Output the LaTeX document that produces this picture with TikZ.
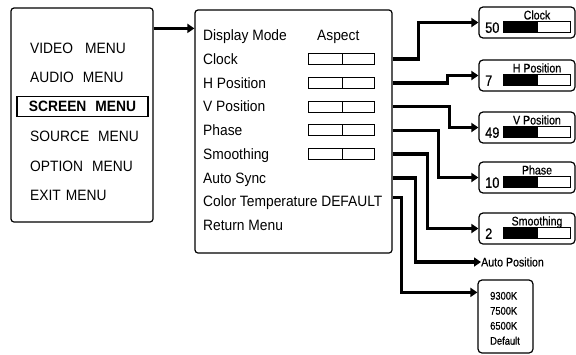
\documentclass[tikz,border=0pt]{standalone}
\usepackage{fontspec}
\setmainfont{Liberation Sans}[FakeStretch=0.92]
\newfontfamily\narrowfont{Liberation Sans}[FakeStretch=0.85,FakeBold=0.6]
\usetikzlibrary{arrows.meta,calc,positioning}

\begin{document}
\begin{tikzpicture}
[
	              x = 1pt,
	              y = -1pt,
	             >= {Triangle[length=7pt,width=9pt]},
	  menubox/.style = { draw=black, line width=1.2pt, rounded corners=3pt, inner sep=0pt },
	   valbox/.style = { menubox, rounded corners=4pt, minimum width=96pt, minimum height=31pt },
	     item/.style = { anchor=west, inner sep=0pt, text height=10.7pt, text depth=0pt,
	                     font=\fontsize{15pt}{18pt}\selectfont },
	  current/.style = { draw=black, line width=1.2pt, minimum width=131pt, minimum height=20pt,
	                     inner sep=0pt, font=\fontsize{15pt}{18pt}\selectfont\bfseries },
	     note/.style = { inner sep=0pt, text height=8.9pt, text depth=0pt,
	                     font=\narrowfont\fontsize{12.5pt}{15pt}\selectfont },
	      num/.style = { anchor=west, inner sep=0pt, text height=10.7pt, text depth=0pt,
	                     font=\narrowfont\fontsize{15pt}{17pt}\selectfont },
	    small/.style = { anchor=west, inner sep=0pt, text height=7.9pt, text depth=0pt,
	                     font=\narrowfont\fontsize{11pt}{13pt}\selectfont },
	     slot/.style = { draw=black, line width=1pt },
	     wire/.style = { draw=black, line width=3.6pt, -> }
]
	\useasboundingbox (0,0) rectangle (576,354);

	% main menu
	\node (menu) at (82,115) [menubox, minimum width=142pt, minimum height=214pt] {};
	\node (video)  at (30,48)      [item]    {VIDEO\hspace{12pt}MENU};
	\node (audio)  at (30,77.5)    [item]    {AUDIO\hspace{9pt}MENU};
	\node (screen) at (82.5,106.5) [current] {SCREEN\hspace{9pt}MENU};
	\node (source) at (30,136.5)   [item]    {SOURCE\hspace{9pt}MENU};
	\node (option) at (30,166)     [item]    {OPTION\hspace{9pt}MENU};
	\node (exit)   at (30,195.5)   [item]    {EXIT\hspace{5pt}MENU};

	% screen menu
	\node (main) at (293.5,131.5) [menubox, minimum width=197pt, minimum height=243pt] {};
	\foreach \txt [count=\i from 0] in {Display Mode, Clock, H Position, V Position, Phase,
	                                    Smoothing, Auto Sync, Color Temperature DEFAULT, Return Menu}
		\node (row\i) at (203,35.3+23.75*\i) [item] {\txt};
	\node (aspect) at (317,35.3) [item] {Aspect};
	\foreach \i in {1,...,5}
	{
		\draw [slot] (308,29.8+23.75*\i) rectangle (374,40.8+23.75*\i);
		\draw [slot] (342,29.8+23.75*\i) -- (342,40.8+23.75*\i);
	}

	\coordinate (m1) at ([yshift=-21pt]menu.north east);
	\draw [wire] (m1) -- (m1 -| main.west);

	% adjustment boxes
	\foreach \name/\top/\title/\val in {clock/7/Clock/50, hpos/60/H Position/7,
	                                    vpos/112/V Position/49, phase/162/Phase/10,
	                                    smooth/213/Smoothing/2}
	{
		\node (\name) at (527,\top+15.5) [valbox] {};
		\node (\name-t) at (537,\top+8) [note] {\title};
		\node (\name-v) at (485,\top+20.5) [num] {\val};
		\fill (503,\top+14) rectangle (538,\top+25);
		\draw [slot] (503,\top+14) rectangle (570,\top+25);
	}
	\node (autopos) at (481,262) [note, anchor=west] {Auto Position};

	\node (colours) at (505.5,316.5) [menubox, rounded corners=4pt, minimum width=55pt, minimum height=73pt] {};
	\foreach \t [count=\i from 0] in {9300K, 7500K, 6500K, Default}
		\node (temp\i) at (490,295.7+15*\i) [small] {\t};

	% links
	\draw [wire] (row1 -| main.east) -- ++(26,0) |- (clock.west);
	\draw [wire] (row2 -| main.east) -- ++(55,0) |- (hpos.west);
	\draw [wire] (row3 -| main.east) -- ++(57,0) |- (vpos.west);
	\draw [wire] (row4 -| main.east) -- ++(46,0) |- (phase.west);
	\draw [wire] (row5 -| main.east) -- ++(35,0) |- (smooth.west);
	\draw [wire] (row6 -| main.east) -- ++(23,0) |- (autopos.west);
	\draw [wire] ([yshift=4pt]row7 -| main.east) -- ++(9,0) |- ([yshift=-13pt]colours.north west);

\end{tikzpicture}
\end{document}
